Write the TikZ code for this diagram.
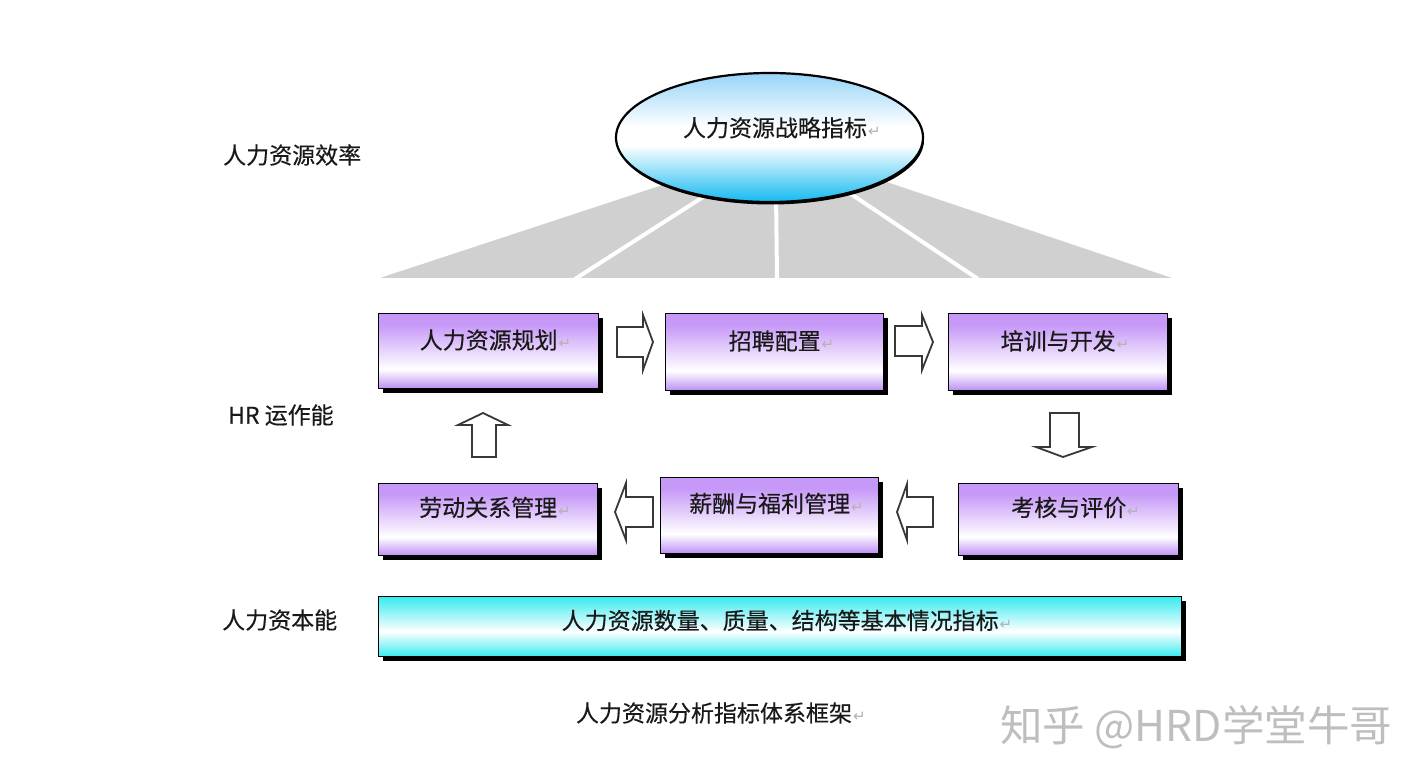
\documentclass[tikz,border=0pt]{standalone}
\usepackage{fontspec}
\setmainfont[FakeBold=0.35]{Noto Sans CJK SC}
\newfontfamily\wmfont{Noto Sans CJK SC}
\newfontfamily\symf{DejaVu Sans}
\usetikzlibrary{shapes.geometric,shadows}
\definecolor{pur}{RGB}{198,152,248}
\definecolor{purb}{RGB}{188,142,245}
\definecolor{cy}{RGB}{55,235,240}
\definecolor{eb}{RGB}{20,185,240}
\definecolor{et}{RGB}{150,212,248}
\definecolor{fan}{RGB}{208,208,208}
\definecolor{wm}{RGB}{190,190,190}
\definecolor{txt}{RGB}{25,25,25}
\pgfdeclareverticalshading{boxsh}{100bp}{color(0bp)=(purb); color(25bp)=(purb); color(38bp)=(white); color(68bp)=(pur); color(75bp)=(pur); color(100bp)=(pur)}
\pgfdeclareverticalshading{barsh}{100bp}{color(0bp)=(cy); color(25bp)=(cy); color(46bp)=(white); color(75bp)=(cy); color(100bp)=(cy)}
\pgfdeclareverticalshading{ellsh}{100bp}{color(0bp)=(eb); color(25bp)=(eb); color(47bp)=(white); color(54bp)=(white); color(75bp)=(et); color(100bp)=(et)}
\newcommand{\retmark}{\rlap{\hspace{1pt}\symf\color{gray!60}\fontsize{15}{15}\selectfont ↵}}
\tikzset{
  shad/.style={drop shadow={shadow xshift=4pt,shadow yshift=-4pt,fill=black,opacity=1}},
  box/.style={draw=black, line width=1.4pt, shade, shading=boxsh, shad, anchor=north west, inner sep=0pt, text=txt, text height=16pt, text depth=#1},
  bar/.style={draw=black, line width=1.4pt, shade, shading=barsh, shad, anchor=north west, inner sep=0pt, text=txt, text height=16pt, text depth=11pt},
  ell/.style={ellipse, draw=black, line width=2.2pt, shade, shading=ellsh, drop shadow={shadow xshift=1pt,shadow yshift=-2.5pt,fill=black,opacity=1}, inner sep=0pt, text=txt, text height=16pt, text depth=18pt},
  harrow/.style={draw=black!78, fill=white, line width=1.8pt, line join=miter},
  side/.style={anchor=west, inner sep=0pt, text=txt},
  divider/.style={white, line width=4pt}
}
\begin{document}
\begin{tikzpicture}[x=1pt,y=-1pt,font=\fontsize{23}{28}\selectfont]
\useasboundingbox (0,0) rectangle (1425,783);
\fill[white] (0,0) rectangle (1425,783);
% fan
\fill[fan] (380,278) -- (708,170) -- (851,170) -- (1172,278) -- cycle;
\draw[divider] (575,279) -- (714,190);
\draw[divider] (777,279) -- (776,190);
\draw[divider] (978,279) -- (845,190);
% ellipse
\node[ell, minimum width=307pt, minimum height=129pt] (strat) at (769.5,137.5) {\hspace*{11pt}人力资源战略指标\retmark};
% boxes
\node[box=21pt, minimum width=220pt, minimum height=75pt] (b1) at (378,313) {人力资源规划\retmark};
\node[box=21pt, minimum width=218pt, minimum height=77pt] (b2) at (665,313) {招聘配置\retmark};
\node[box=21pt, minimum width=219pt, minimum height=77pt] (b3) at (948,313) {培训与开发\retmark};
\node[box=23pt, minimum width=219pt, minimum height=72pt] (b4) at (378,483) {劳动关系管理\retmark};
\node[box=23pt, minimum width=218pt, minimum height=76pt] (b5) at (660,477) {薪酬与福利管理\retmark};
\node[box=23pt, minimum width=220pt, minimum height=72pt] (b6) at (958,483) {考核与评价\retmark};
\node[bar, minimum width=803pt, minimum height=60pt] (base) at (378,596) {人力资源数量、质量、结构等基本情况指标\retmark};
% block arrows
\draw[harrow] (617,327) -- (643,327) -- (643,315) -- (653,342) -- (643,370) -- (643,357) -- (617,357) -- cycle;
\draw[harrow] (895,326) -- (922,326) -- (922,315) -- (933,342) -- (922,370) -- (922,356) -- (895,356) -- cycle;
\draw[harrow] (653,497) -- (626,497) -- (626,483) -- (615,512) -- (626,540) -- (626,527) -- (653,527) -- cycle;
\draw[harrow] (933,497) -- (907,497) -- (907,484) -- (897,512) -- (907,540) -- (907,527) -- (933,527) -- cycle;
\draw[harrow] (472,457) -- (472,425) -- (458,425) -- (483,413) -- (508,425) -- (496,425) -- (496,457) -- cycle;
\draw[harrow] (1050,413) -- (1079,413) -- (1079,447) -- (1092,447) -- (1063,457) -- (1036,447) -- (1050,447) -- cycle;
% side labels
\node[side] (l1) at (223,155) {人力资源效率};
\node[side] (l2) at (228,415) {HR 运作能};
\node[side] (l3) at (222,620) {人力资本能};
% caption
\node[inner sep=0pt, text=txt] (cap) at (714,713) {人力资源分析指标体系框架\retmark};
% watermark
\node[anchor=west, inner sep=0pt, text=wm, font=\wmfont\fontsize{42.5}{47}\selectfont] (wmk) at (1000,727) {知乎 @HRD学堂牛哥};
\end{tikzpicture}
\end{document}
